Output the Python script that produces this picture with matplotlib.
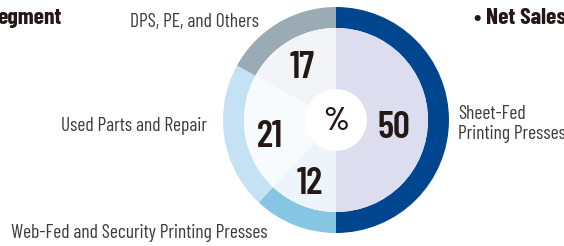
import matplotlib
matplotlib.use("Agg")
import matplotlib.pyplot as plt
from matplotlib import font_manager

segments = ["Sheet-Fed\nPrinting Presses", "Web-Fed and Security Printing Presses",
            "Used Parts and Repair", "DPS, PE, and Others"]
values = [50, 12, 21, 17]
outer_colors = ["#00468F", "#86C5E3", "#C4E2F4", "#9AABB5"]
inner_colors = ["#DCDDEF", "#EEF5FA", "#F7FBFE", "#F2F4F7"]
title_left = "egment"
title_right = "• Net Sales"
center_label = "%"

names = {f.name for f in font_manager.fontManager.ttflist}
narrow = "DejaVu Sans"
for cand in ["Barlow Condensed", "Archivo Narrow", "Liberation Sans Narrow"]:
    if cand in names:
        narrow = cand
        break
fam = [narrow, "DejaVu Sans"]

W, H = 564, 246
fig = plt.figure(figsize=(W / 100, H / 100), dpi=100)
ax = fig.add_axes([0, 0, 1, 1])

cx, cy = 336, H - 120
R_out, R_mid, R_in = 113, 92, 31

ax.pie(values, colors=outer_colors, startangle=90, counterclock=False,
       radius=R_out, center=(cx, cy), frame=True,
       wedgeprops=dict(width=R_out - R_mid, linewidth=0))
ax.pie(values, colors=inner_colors, startangle=90, counterclock=False,
       radius=R_mid, center=(cx, cy), frame=True,
       wedgeprops=dict(width=R_mid - R_in, linewidth=0))
ax.set_xlim(0, W)
ax.set_ylim(0, H)
ax.set_aspect("equal")
ax.axis("off")

txt = "#231815"
lab = "#3E3A39"
numpos = [(394, 128), (310, 184), (270, 137), (302, 68)]
for v, (x, y) in zip(values, numpos):
    ax.text(x, H - y, str(v), ha="center", va="center", fontsize=27,
            fontweight="semibold", family=fam, color=txt)
ax.text(cx, H - 122, center_label, ha="center", va="center", fontsize=24,
        fontweight="semibold", family=fam, color=txt)

fs = 14
ax.text(458, H - 124, segments[0], ha="left", va="center", fontsize=fs,
        family=fam, color=lab, linespacing=1.15)
ax.text(268, H - 233, segments[1], ha="right", va="center", fontsize=fs,
        family=fam, color=lab)
ax.text(207, H - 126, segments[2], ha="right", va="center", fontsize=fs,
        family=fam, color=lab)
ax.text(259, H - 22, segments[3], ha="right", va="center", fontsize=fs,
        family=fam, color=lab)

ax.text(-3, H - 18, title_left, ha="left", va="center", fontsize=17,
        fontweight="bold", family=fam, color=txt)
ax.text(566, H - 18, title_right, ha="right", va="center", fontsize=17,
        fontweight="bold", family=fam, color=txt)

fig.savefig("out.png", dpi=100)
